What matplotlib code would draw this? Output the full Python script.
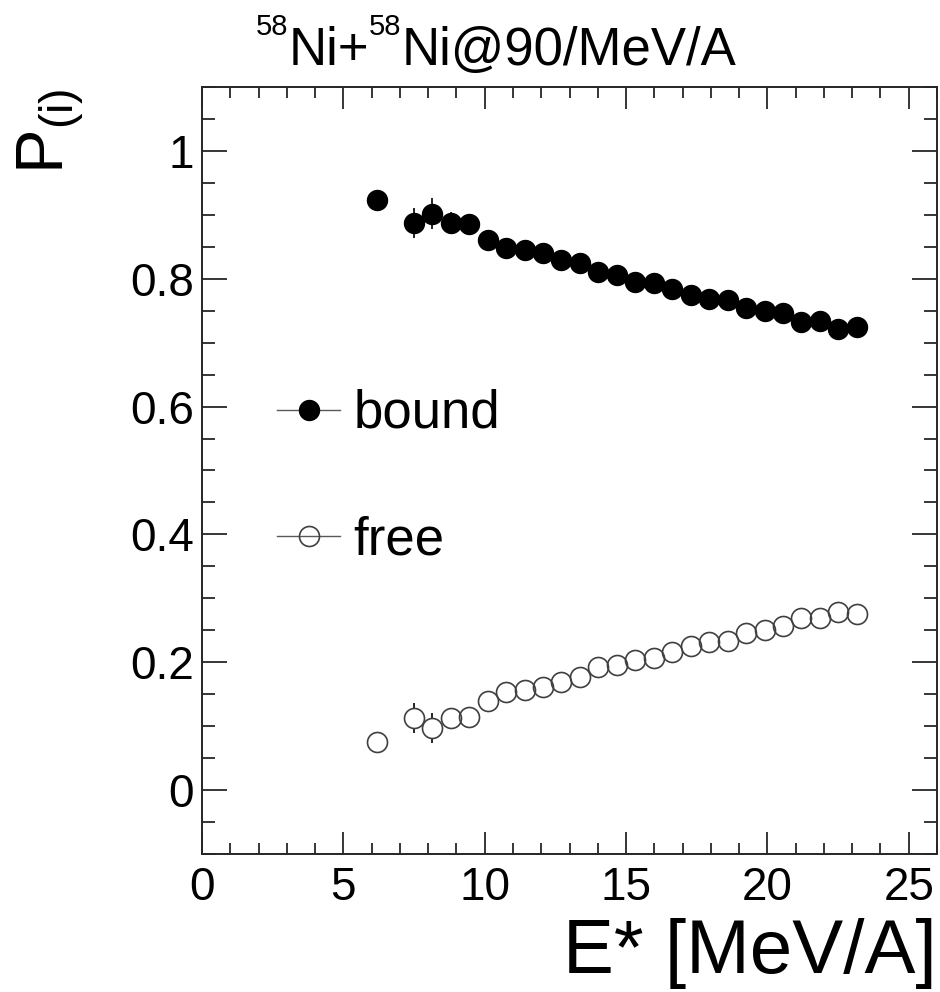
import matplotlib
matplotlib.use("Agg")
import matplotlib.pyplot as plt
from matplotlib.lines import Line2D
from matplotlib.ticker import MultipleLocator, FormatStrFormatter

plt.rcParams['font.family'] = ['Liberation Sans', 'DejaVu Sans']
plt.rcParams['mathtext.fontset'] = 'custom'
plt.rcParams['mathtext.rm'] = 'Liberation Sans'
plt.rcParams['mathtext.it'] = 'Liberation Sans:italic'

# Excitation energy per nucleon (MeV/A)
energy = [6.19, 7.49, 8.14, 8.80, 9.45, 10.10, 10.75, 11.41, 12.06, 12.71,
          13.37, 14.02, 14.67, 15.33, 15.98, 16.63, 17.29, 17.94, 18.59,
          19.24, 19.90, 20.55, 21.20, 21.86, 22.51, 23.16]

# Probability that a nucleon ends up bound / free
p_bound = [0.923, 0.887, 0.902, 0.888, 0.886, 0.861, 0.848, 0.845, 0.840,
           0.829, 0.824, 0.811, 0.806, 0.795, 0.793, 0.784, 0.775, 0.769,
           0.767, 0.754, 0.749, 0.746, 0.733, 0.734, 0.722, 0.725]
p_free = [0.076, 0.113, 0.097, 0.112, 0.114, 0.139, 0.153, 0.156, 0.162,
          0.169, 0.177, 0.193, 0.196, 0.203, 0.206, 0.216, 0.225, 0.232,
          0.233, 0.246, 0.250, 0.257, 0.269, 0.269, 0.278, 0.276]
err = [0.010, 0.024, 0.024, 0.016, 0.012, 0.010, 0.008, 0.008, 0.007,
       0.007, 0.007, 0.007, 0.006, 0.006, 0.006, 0.006, 0.006, 0.006,
       0.006, 0.006, 0.006, 0.006, 0.006, 0.006, 0.006, 0.006]

series_labels = ["bound", "free"]
x_range = (0, 26)
y_range = (-0.1, 1.1)

W, H = 940, 992
fig = plt.figure(figsize=(W / 100, H / 100), dpi=100)
ax = fig.add_axes([202 / W, 1 - 854 / H, (937 - 202) / W, (854 - 87) / H])
ax.set_xlim(*x_range)
ax.set_ylim(*y_range)

MS = 14.4          # marker diameter in points
R_PX = MS * 100 / 72 / 2

# error bars drawn only outside the marker, as in ROOT
ax_h = ax.get_window_extent().height
r_data = R_PX * (y_range[1] - y_range[0]) / ax_h
for ys in (p_bound, p_free):
    for xv, yv, ev in zip(energy, ys, err):
        if ev > r_data:
            ax.vlines(xv, yv + r_data, yv + ev, color='black', lw=1.2, zorder=2)
            ax.vlines(xv, yv - ev, yv - r_data, color='black', lw=1.2, zorder=2)

ax.plot(energy, p_bound, ls='none', marker='o', ms=MS, mfc='black',
        mec='black', zorder=3)
ax.plot(energy, p_free, ls='none', marker='o', ms=MS, mfc='none',
        mec='0.25', mew=1.2, zorder=3)

# axes styling
for sp in ax.spines.values():
    sp.set_linewidth(1.4)
    sp.set_color('0.15')
ax.xaxis.set_major_locator(MultipleLocator(5))
ax.xaxis.set_minor_locator(MultipleLocator(1))
ax.yaxis.set_major_locator(MultipleLocator(0.2))
ax.yaxis.set_minor_locator(MultipleLocator(0.05))
ax.yaxis.set_major_formatter(FormatStrFormatter('%g'))
ax.tick_params(which='both', direction='in', top=True, right=True,
               width=1.3, color='0.15', labelsize=33)
ax.tick_params(axis='x', which='major', length=16, pad=9)
ax.tick_params(axis='x', which='minor', length=8)
ax.tick_params(axis='y', which='major', length=18, pad=6)
ax.tick_params(axis='y', which='minor', length=9.5)

# legend
handles = [
    Line2D([], [], color='0.35', lw=1, marker='o', ms=MS, mfc='black', mec='black'),
    Line2D([], [], color='0.35', lw=1, marker='o', ms=MS, mfc='none', mec='0.25', mew=1.2),
]
ax.legend(handles, series_labels, loc='upper left',
          bbox_to_anchor=(277 / W, 1 - 389 / H), bbox_transform=fig.transFigure,
          frameon=False, fontsize=38, handlelength=1.2, handletextpad=0.25,
          labelspacing=1.45, borderpad=0, borderaxespad=0)

# axis titles
fig.text(15 / W, 1 - 88 / H, r'$\mathrm{P}_{\mathrm{(i)}}$', rotation=90,
         ha='left', va='top', fontsize=48)
fig.text(937 / W, 1 - 973 / H, 'E* [MeV/A]', ha='right', va='baseline',
         fontsize=55)

# title with small superscripts
renderer = fig.canvas.get_renderer()
pieces = [("58", 21, 30), ("Ni+", 38, 0), ("58", 21, 30), ("Ni@90/MeV/A", 38, 0)]
x_px = 256
base_px = 65
for s, size, rise in pieces:
    t = fig.text(x_px / W, 1 - (base_px - rise) / H, s, fontsize=size,
                 ha='left', va='baseline')
    x_px += t.get_window_extent(renderer).width

fig.savefig("out.png", dpi=100)
